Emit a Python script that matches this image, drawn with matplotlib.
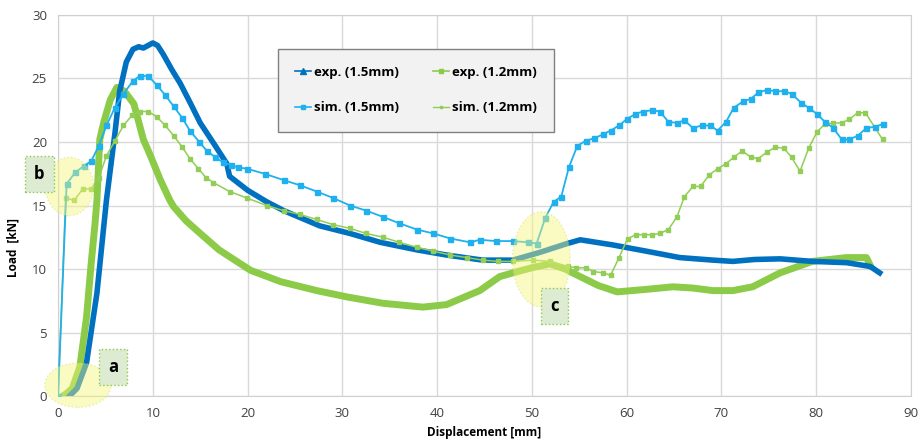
import matplotlib.pyplot as plt
from matplotlib.lines import Line2D
from matplotlib.patches import Ellipse

plt.rcParams['font.family'] = ['Open Sans', 'DejaVu Sans']

# exp. (1.5mm)
exp15_x = [1.2, 2.0, 3.0, 4.1, 5.1, 6.0, 6.5, 7.2, 7.9, 8.5, 9.0, 9.5, 10.0, 10.5, 11.1, 12.0, 12.9,
           14.0, 15.0, 16.5, 17.8, 18.1, 20.0, 22.0, 23.8, 27.6, 30.8, 34.0, 37.9, 41.0, 44.8, 48.0,
           50.8, 53.7, 55.1, 58.5, 62.1, 65.6, 69.1, 71.2, 73.5, 76.2, 79.6, 83.2, 85.7, 86.7]
exp15_y = [0.0, 0.6, 2.6, 8.1, 15.4, 20.7, 24.0, 26.3, 27.3, 27.5, 27.4, 27.6, 27.8, 27.6, 26.9, 25.7, 24.6,
           23.0, 21.5, 19.8, 18.3, 17.3, 16.2, 15.3, 14.6, 13.4, 12.8, 12.1, 11.5, 11.1, 10.7, 10.7,
           11.3, 12.0, 12.3, 11.9, 11.4, 10.9, 10.7, 10.6, 10.75, 10.8, 10.6, 10.5, 10.2, 9.7]

# exp. (1.2mm)
exp12_x = [0.5, 0.9, 1.5, 2.3, 3.0, 3.5, 3.9, 4.1, 4.4, 4.8, 5.5, 6.2, 7.0, 8.0, 9.0, 9.7, 10.8,
           11.8, 12.2, 13.5, 15.0, 17.0, 20.3, 23.5, 27.3, 30.5, 34.3, 38.5, 41.0, 44.5, 46.6, 48.0,
           50.0, 51.9, 53.5, 55.1, 57.0, 59.0, 62.1, 64.9, 67.0, 69.1, 71.2, 73.3, 76.2, 79.6, 83.2,
           85.3, 85.7]
exp12_y = [0.0, 0.2, 0.6, 2.3, 6.2, 10.5, 13.6, 15.4, 20.2, 21.5, 23.3, 24.3, 24.0, 23.0, 20.2, 19.0, 17.0,
           15.4, 14.9, 13.8, 12.8, 11.5, 9.9, 9.0, 8.3, 7.8, 7.3, 7.0, 7.2, 8.3, 9.4, 9.7,
           10.1, 10.4, 10.0, 9.4, 8.7, 8.2, 8.4, 8.6, 8.5, 8.3, 8.3, 8.6, 9.7, 10.6, 10.9,
           10.9, 10.3]

# sim. (1.5mm)
sim15_x = [0.0, 0.9, 1.8, 2.7, 3.5, 4.3, 5.1, 6.0, 6.9, 7.9, 8.6, 9.5, 10.4, 11.3, 12.2, 13.1, 13.9,
           14.9, 15.7, 16.6, 17.4, 18.2, 19.0, 19.9, 21.8, 23.8, 25.5, 27.3, 29.0, 30.8, 32.5, 34.3,
           36.0, 37.9, 39.6, 41.4, 43.5, 44.5, 46.2, 48.0, 49.6, 50.5, 51.4, 52.3, 53.1, 53.9, 54.8,
           55.7, 56.6, 57.5, 58.3, 59.2, 60.0, 60.9, 61.7, 62.7, 63.5, 64.4, 65.3, 66.1, 67.0, 67.9,
           68.8, 69.6, 70.5, 71.3, 72.3, 73.1, 73.9, 74.8, 75.7, 76.6, 77.4, 78.4, 79.2, 80.1, 80.9,
           81.8, 82.7, 83.5, 84.4, 85.3, 86.2, 87.0]
sim15_y = [0.0, 16.7, 17.6, 18.1, 18.5, 19.7, 21.3, 22.7, 23.8, 24.8, 25.2, 25.2, 24.5, 23.7, 22.8, 21.9, 20.9,
           20.0, 19.3, 18.8, 18.4, 18.2, 18.0, 17.9, 17.5, 17.0, 16.6, 16.1, 15.6, 15.0, 14.6, 14.1,
           13.6, 13.1, 12.8, 12.4, 12.1, 12.3, 12.2, 12.2, 12.1, 12.0, 14.0, 15.3, 15.7, 18.0, 19.7,
           20.1, 20.3, 20.6, 20.9, 21.3, 21.8, 22.2, 22.4, 22.5, 22.4, 21.6, 21.5, 21.7, 21.1, 21.3,
           21.3, 20.9, 21.6, 22.7, 23.2, 23.4, 23.9, 24.1, 24.0, 24.0, 23.8, 23.1, 22.7, 22.2, 21.6,
           21.1, 20.2, 20.2, 20.5, 21.1, 21.2, 21.4]

# sim. (1.2mm)
sim12_x = [0.0, 0.8, 1.7, 2.6, 3.5, 4.3, 5.1, 6.0, 6.9, 7.8, 8.6, 9.5, 10.4, 11.3, 12.2, 13.1, 13.9,
           14.8, 15.6, 16.4, 18.1, 19.9, 22.0, 23.8, 25.5, 27.3, 29.0, 30.8, 32.5, 34.3, 36.0, 37.9,
           39.6, 41.4, 43.1, 44.8, 46.4, 48.0, 50.1, 51.9, 53.8, 54.7, 55.7, 56.5, 57.5, 58.3, 59.2,
           60.1, 61.0, 61.8, 62.7, 63.5, 64.4, 65.3, 66.1, 67.0, 67.8, 68.7, 69.6, 70.5, 71.3, 72.2,
           73.1, 73.9, 74.8, 75.7, 76.6, 77.4, 78.3, 79.2, 80.1, 80.9, 81.8, 82.7, 83.5, 84.4, 85.2,
           87.0]
sim12_y = [0.0, 15.6, 15.4, 16.3, 16.3, 17.2, 18.9, 20.1, 21.3, 22.1, 22.4, 22.4, 22.0, 21.3, 20.5, 19.6, 18.7,
           17.9, 17.2, 16.8, 16.1, 15.6, 15.0, 14.6, 14.3, 13.9, 13.5, 13.2, 12.8, 12.5, 12.1, 11.7,
           11.4, 11.1, 10.9, 10.7, 10.6, 10.6, 10.7, 10.6, 10.2, 10.1, 10.1, 9.8, 9.7, 9.5, 10.9,
           12.4, 12.7, 12.7, 12.7, 12.8, 13.1, 14.1, 15.7, 16.5, 16.5, 17.4, 17.9, 18.3, 18.8, 19.3,
           18.8, 18.7, 19.2, 19.6, 19.5, 18.8, 17.7, 19.5, 20.8, 21.4, 21.5, 21.5, 21.8, 22.3, 22.3,
           20.2]

c_exp15 = '#0070C0'
c_sim15 = '#1FB0EE'
c_exp12 = '#8CCB48'
c_sim12 = '#92CD55'

fig = plt.figure(figsize=(9.22, 4.41), dpi=100)
ax = fig.add_axes([0.063, 0.102, 0.925, 0.864])

ax.plot(exp12_x, exp12_y, color=c_exp12, lw=5, solid_joinstyle='round', zorder=3)
ax.plot(exp15_x, exp15_y, color=c_exp15, lw=4, solid_joinstyle='round', zorder=4)
ax.plot(sim12_x, sim12_y, color=c_sim12, lw=1.1, marker='s', ms=2.3, zorder=5)
ax.plot(sim15_x, sim15_y, color=c_sim15, lw=1.3, marker='s', ms=3.6, zorder=5)

# highlighted regions
for cx, cy, w, h in [(2.1, 0.85, 7.0, 3.5), (1.2, 16.5, 5.1, 4.6), (51.0, 10.75, 6.1, 7.5)]:
    e = Ellipse((cx, cy), w, h, facecolor='#F5F57A', alpha=0.45, edgecolor='#D8D870',
                linestyle=':', lw=1, zorder=6, clip_on=False)
    ax.add_patch(e)

for lx, ly, s in [(5.8, 2.3, 'a'), (-2.0, 17.5, 'b'), (52.4, 7.1, 'c')]:
    ax.text(lx, ly, s, fontsize=12, fontweight='bold', ha='center', va='center', zorder=7,
            clip_on=False,
            bbox=dict(boxstyle='square,pad=0.55', facecolor='#DDEBD3', edgecolor='#8CCB48',
                      linestyle=':', lw=1))

ax.set_xlim(0, 90)
ax.set_ylim(0, 30)
ax.set_xticks(range(0, 91, 10))
ax.set_yticks(range(0, 31, 5))
ax.grid(True, color='#D9D9D9', lw=1)
ax.set_axisbelow(True)
for sp in ax.spines.values():
    sp.set_color('#D0D0D0')
ax.tick_params(length=0, labelsize=9.5, colors='#404040', pad=8)

ax.set_xlabel('Displacement [mm]', fontsize=8.5, fontweight='bold', labelpad=4)
ax.set_ylabel('Load  [kN]', fontsize=8.5, fontweight='bold')
ax.yaxis.set_label_coords(-0.045, 0.39)

handles = [
    Line2D([], [], color=c_exp15, lw=1.2, marker='^', ms=4, label='exp. (1.5mm)'),
    Line2D([], [], color=c_sim15, lw=1.2, marker='s', ms=3.5, label='sim. (1.5mm)'),
    Line2D([], [], color=c_exp12, lw=1.2, marker='s', ms=3.5, label='exp. (1.2mm)'),
    Line2D([], [], color=c_sim12, lw=1.0, marker='s', ms=2, label='sim. (1.2mm)'),
]
leg = ax.legend(handles=handles, ncol=2, loc='upper left', bbox_to_anchor=(0.258, 0.911),
                borderaxespad=0, frameon=True, fancybox=False, facecolor='#F2F2F2',
                edgecolor='#808080', framealpha=1, handlelength=1.2, handletextpad=0.2,
                columnspacing=2.6, labelspacing=1.7, borderpad=1.3,
                prop={'weight': 'bold', 'size': 9.5})
leg.get_frame().set_linewidth(1)
leg.set_zorder(8)

fig.savefig('out.png', dpi=100)
